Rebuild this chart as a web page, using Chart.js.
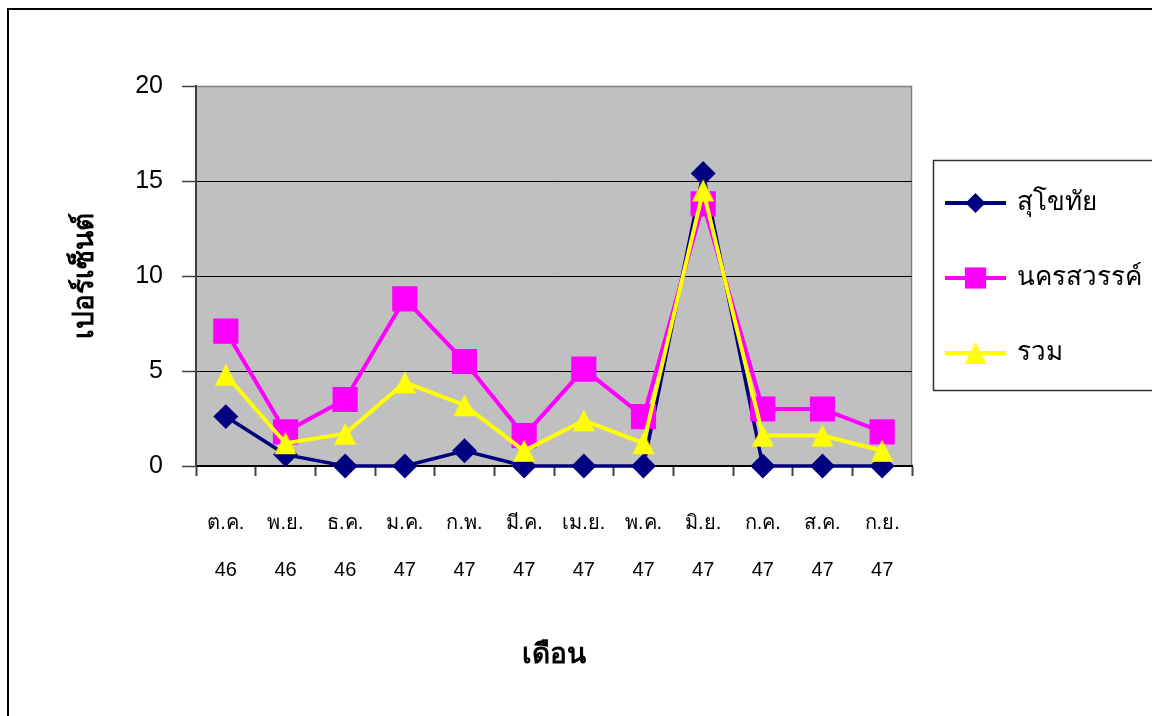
<!DOCTYPE html>
<html>
<head>
<meta charset="utf-8">
<style>
  html, body { margin: 0; padding: 0; background: #ffffff; }
  #wrap { width: 1152px; height: 716px; position: relative; }
</style>
<script src="https://cdn.jsdelivr.net/npm/chart.js@4/dist/chart.umd.min.js"></script>
</head>
<body>
<div id="wrap"><canvas id="c" width="1152" height="716"></canvas></div>
<script>
// Months (Thai abbreviations) and Buddhist-era years, shown as two-line tick labels
const months = ['ต.ค.', 'พ.ย.', 'ธ.ค.', 'ม.ค.', 'ก.พ.', 'มี.ค.', 'เม.ย.', 'พ.ค.', 'มิ.ย.', 'ก.ค.', 'ส.ค.', 'ก.ย.'];
const years = ['46', '46', '46', '47', '47', '47', '47', '47', '47', '47', '47', '47'];

// Percentages per month
const sukhothai = [2.6, 0.6, 0, 0, 0.8, 0, 0, 0, 15.4, 0, 0, 0];
const nakhonSawan = [7.1, 1.8, 3.5, 8.8, 5.5, 1.6, 5.1, 2.6, 13.8, 3.0, 3.0, 1.8];
const total = [4.8, 1.2, 1.7, 4.4, 3.2, 0.8, 2.4, 1.2, 14.5, 1.6, 1.6, 0.8];

const yTicks = [0, 5, 10, 15, 20];
const seriesNames = ['สุโขทัย', 'นครสวรรค์', 'รวม'];

const thaiFont = "'Liberation Sans', 'DejaVu Sans', sans-serif";

// Triangle marker whose bounding box is centred on the data point
function makeTriangle(color, size) {
  const cv = document.createElement('canvas');
  cv.width = size;
  cv.height = size;
  const g = cv.getContext('2d');
  g.fillStyle = color;
  g.beginPath();
  g.moveTo(size / 2, 1);
  g.lineTo(size - 1, size - 1);
  g.lineTo(1, size - 1);
  g.closePath();
  g.fill();
  return cv;
}
const triangleMarker = makeTriangle('#ffff00', 24);

// Frame, grey plot area and the custom legend box
const frame = {
  id: 'frame',
  beforeDraw(chart) {
    const { ctx, chartArea: a } = chart;
    ctx.save();
    ctx.fillStyle = '#ffffff';
    ctx.fillRect(0, 0, chart.width, chart.height);
    ctx.strokeStyle = '#000000';
    ctx.lineWidth = 2;
    ctx.strokeRect(8, 9, chart.width + 20, chart.height + 20);
    ctx.fillStyle = '#c0c0c0';
    ctx.fillRect(a.left, a.top, a.right - a.left, a.bottom - a.top);
    ctx.strokeStyle = '#808080';
    ctx.lineWidth = 1.5;
    ctx.beginPath();
    ctx.moveTo(a.left, a.top + 0.5);
    ctx.lineTo(a.right - 0.5, a.top + 0.5);
    ctx.lineTo(a.right - 0.5, a.bottom);
    ctx.stroke();
    ctx.restore();
  },
  afterDraw(chart) {
    const { ctx } = chart;
    ctx.save();
    ctx.fillStyle = '#ffffff';
    ctx.fillRect(933, 160, 240, 230);
    ctx.strokeStyle = '#333333';
    ctx.lineWidth = 1.5;
    ctx.strokeRect(933.5, 160.5, 240, 230);
    const rows = [203, 278, 353];
    chart.data.datasets.forEach((ds, i) => {
      const y = rows[i];
      ctx.strokeStyle = ds.borderColor;
      ctx.lineWidth = 4;
      ctx.beginPath();
      ctx.moveTo(945, y);
      ctx.lineTo(1006, y);
      ctx.stroke();
      ctx.fillStyle = ds.pointBackgroundColor;
      Chart.helpers.drawPoint(ctx, {
        pointStyle: ds.pointStyle,
        radius: ds.pointRadius,
        borderWidth: 0
      }, 975.5, y);
      ctx.fillStyle = '#000000';
      ctx.font = '26px ' + thaiFont;
      ctx.textBaseline = 'middle';
      ctx.textAlign = 'left';
      ctx.fillText(ds.label, 1017, y);
    });
    ctx.restore();
  }
};

const labels = months.map((m, i) => [m, years[i]]);

new Chart(document.getElementById('c'), {
  type: 'line',
  data: {
    labels: labels,
    datasets: [
      {
        label: seriesNames[0], data: sukhothai, order: 3,
        borderColor: '#000080', backgroundColor: '#000080',
        pointBackgroundColor: '#000080', pointBorderColor: '#000080',
        pointStyle: 'rectRot', pointRadius: 10, borderWidth: 3.5, clip: false
      },
      {
        label: seriesNames[1], data: nakhonSawan, order: 2,
        borderColor: '#ff00ff', backgroundColor: '#ff00ff',
        pointBackgroundColor: '#ff00ff', pointBorderColor: '#ff00ff',
        pointStyle: 'rect', pointRadius: 15, borderWidth: 4, clip: false
      },
      {
        label: seriesNames[2], data: total, order: 1,
        borderColor: '#ffff00', backgroundColor: '#ffff00',
        pointBackgroundColor: '#ffff00', pointBorderColor: '#ffff00',
        pointStyle: triangleMarker, pointRadius: 12, borderWidth: 4, clip: false
      }
    ]
  },
  options: {
    responsive: false,
    animation: false,
    events: [],
    layout: { padding: { left: 0, top: 86, right: 240, bottom: 0 } },
    elements: { line: { tension: 0 }, point: { borderWidth: 0, hoverRadius: 0 } },
    plugins: { legend: { display: false }, tooltip: { enabled: false } },
    scales: {
      x: {
        offset: true,
        afterFit(s) { s.height = 250; },
        grid: { offset: true, drawOnChartArea: false, drawTicks: true, tickLength: 10, tickColor: '#404040', tickWidth: 2 },
        border: { color: '#000000', width: 2 },
        ticks: {
          color: '#000000', padding: 23.5, maxRotation: 0, autoSkip: false,
          font: { family: thaiFont, size: 20, lineHeight: 2.35 }
        },
        title: {
          display: true, text: 'เดือน', color: '#000000',
          font: { family: thaiFont, size: 28, weight: 'bold', lineHeight: 1.2 },
          padding: { top: 0, bottom: 44 }
        }
      },
      y: {
        min: 0, max: 20,
        afterFit(s) { s.width = 196; },
        afterBuildTicks(s) { s.ticks = yTicks.map(v => ({ value: v })); },
        grid: {
          color: ctx => (ctx.tick && ctx.tick.value === 20 ? '#808080' : '#000000'),
          lineWidth: 1, tickLength: 14, tickColor: '#404040', tickWidth: 1.5
        },
        border: { color: '#404040', width: 2 },
        ticks: {
          color: '#000000', padding: 19,
          font: { family: "'Liberation Sans', Arial, sans-serif", size: 25 }
        },
        title: {
          display: true, text: 'เปอร์เซ็นต์', color: '#000000',
          font: { family: thaiFont, size: 28, weight: 'bold', lineHeight: 1.2 },
          padding: { top: 68, bottom: 0 }
        }
      }
    }
  },
  plugins: [frame]
});
</script>
</body>
</html>
